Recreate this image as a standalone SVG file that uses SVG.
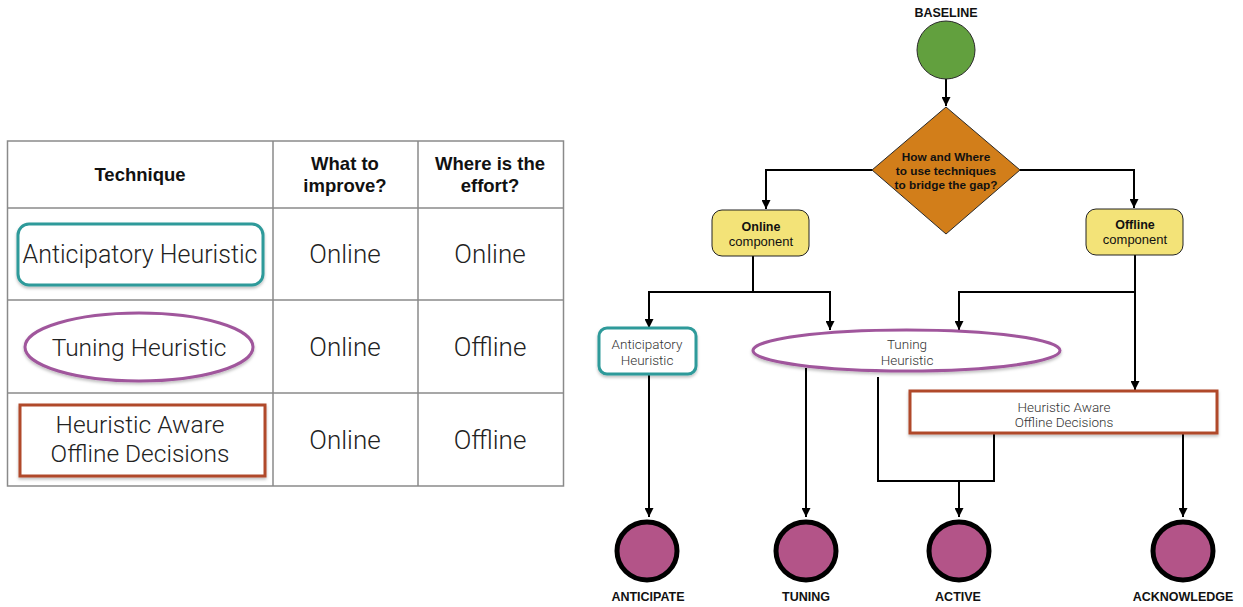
<svg xmlns="http://www.w3.org/2000/svg" width="1243" height="607" viewBox="0 0 1243 607">
  <defs>
    <marker id="arrow" viewBox="0 0 10 10" refX="10" refY="5" markerWidth="9" markerHeight="9" markerUnits="userSpaceOnUse" orient="auto">
      <path d="M0,0 L10,5 L0,10 z" fill="#000"/>
    </marker>
    <filter id="shadow" x="-10%" y="-20%" width="120%" height="150%">
      <feDropShadow dx="0" dy="2" stdDeviation="1.5" flood-color="#000" flood-opacity="0.25"/>
    </filter>
  </defs>
  <style>
    .grid { fill: none; stroke: #8a8a8a; stroke-width: 1.5; }
    .hdr { font-family: "Liberation Sans", Arial, sans-serif; font-weight: bold; font-size: 18.5px; fill: #111; text-anchor: middle; }
    .big { font-family: Roboto, "Liberation Sans", sans-serif; font-weight: 300; font-size: 26px; fill: #222; text-anchor: middle; }
    .tech { font-family: Roboto, "Liberation Sans", sans-serif; font-weight: 300; font-size: 24.5px; fill: #222; text-anchor: middle; }
    .sm { font-family: Roboto, "Liberation Sans", sans-serif; font-weight: 300; font-size: 13.5px; fill: #333; text-anchor: middle; }
    .lbl { font-family: "Liberation Sans", Arial, sans-serif; font-weight: bold; font-size: 12.5px; fill: #111; text-anchor: middle; }
    .dec { font-family: "Liberation Sans", Arial, sans-serif; font-weight: bold; font-size: 11.8px; fill: #111; text-anchor: middle; }
    .comp { font-family: "Liberation Sans", Arial, sans-serif; font-size: 13px; fill: #111; text-anchor: middle; }
    .teal { fill: #fff; stroke: #2E9A9A; stroke-width: 3; filter: url(#shadow); }
    .purple { fill: #fff; stroke: #A0569C; stroke-width: 3; filter: url(#shadow); }
    .rust { fill: #fff; stroke: #B0482B; stroke-width: 3; filter: url(#shadow); }
    .yellow { fill: #F3E378; stroke: #222; stroke-width: 1; }
    .end { fill: #B35488; stroke: #000; stroke-width: 5; }
    .conn path, .conn line { fill: none; stroke: #000; stroke-width: 2; }
  </style>

  <!-- Comparison table -->
  <g id="table">
    <rect class="grid" x="7.5" y="141" width="556" height="345"/>
    <line class="grid" x1="273" y1="141" x2="273" y2="486"/>
    <line class="grid" x1="418" y1="141" x2="418" y2="486"/>
    <line class="grid" x1="7.5" y1="208" x2="563.5" y2="208"/>
    <line class="grid" x1="7.5" y1="300" x2="563.5" y2="300"/>
    <line class="grid" x1="7.5" y1="393" x2="563.5" y2="393"/>

    <text class="hdr" x="140" y="181">Technique</text>
    <text class="hdr" x="345" y="170">What to</text>
    <text class="hdr" x="345" y="192">improve?</text>
    <text class="hdr" x="490" y="170">Where is the</text>
    <text class="hdr" x="490" y="192">effort?</text>

    <rect class="teal" x="18" y="224" width="245" height="61" rx="11"/>
    <text class="tech" x="140" y="263" style="font-size:25px">Anticipatory Heuristic</text>
    <text class="big" x="345" y="263">Online</text>
    <text class="big" x="490" y="263">Online</text>

    <ellipse class="purple" cx="139" cy="347" rx="114" ry="34"/>
    <text class="tech" x="139" y="356">Tuning Heuristic</text>
    <text class="big" x="345" y="356">Online</text>
    <text class="big" x="490" y="356">Offline</text>

    <rect class="rust" x="20" y="405" width="245" height="71"/>
    <text class="tech" x="140" y="433">Heuristic Aware</text>
    <text class="tech" x="140" y="462">Offline Decisions</text>
    <text class="big" x="345" y="449">Online</text>
    <text class="big" x="490" y="449">Offline</text>
  </g>

  <!-- Connectors -->
  <g class="conn">
    <line x1="946" y1="79" x2="946" y2="106" marker-end="url(#arrow)"/>
    <path d="M872,170 H766 V209" marker-end="url(#arrow)"/>
    <path d="M1020,170 H1134 V208" marker-end="url(#arrow)"/>
    <line x1="753" y1="256" x2="753" y2="292"/>
    <path d="M753,292 H649 V328" marker-end="url(#arrow)"/>
    <path d="M753,292 H830 V330" marker-end="url(#arrow)"/>
    <line x1="1135" y1="255" x2="1135" y2="390" marker-end="url(#arrow)"/>
    <path d="M1135,292 H959 V330" marker-end="url(#arrow)"/>
    <line x1="649" y1="374" x2="649" y2="517" marker-end="url(#arrow)"/>
    <line x1="806" y1="368" x2="806" y2="517" marker-end="url(#arrow)"/>
    <path d="M878,377 V481 H994 V434"/>
    <line x1="959" y1="481" x2="959" y2="517" marker-end="url(#arrow)"/>
    <line x1="1183" y1="434" x2="1183" y2="517" marker-end="url(#arrow)"/>
  </g>

  <g id="baseline">
    <text class="lbl" x="946" y="17">BASELINE</text>
    <circle cx="946" cy="50" r="29" fill="#62A03E" stroke="#2a2a2a" stroke-width="1"/>
  </g>

  <g id="decision">
    <polygon points="946,107 1020,170 946,234 872,170" fill="#D27E1A" stroke="#2a2a2a" stroke-width="1"/>
    <text class="dec" x="946" y="161">How and Where</text>
    <text class="dec" x="946" y="175">to use techniques</text>
    <text class="dec" x="946" y="189">to bridge the gap?</text>
  </g>

  <g id="online-component">
    <rect class="yellow" x="712" y="210" width="97" height="46" rx="10"/>
    <text class="lbl" x="761" y="231">Online</text>
    <text class="comp" x="761" y="246">component</text>
  </g>

  <g id="offline-component">
    <rect class="yellow" x="1086" y="209" width="97" height="46" rx="10"/>
    <text class="lbl" x="1135" y="229">Offline</text>
    <text class="comp" x="1135" y="244">component</text>
  </g>

  <g id="anticipatory">
    <rect class="teal" x="599" y="328" width="97" height="46" rx="8"/>
    <text class="sm" x="647" y="349">Anticipatory</text>
    <text class="sm" x="647" y="365">Heuristic</text>
  </g>

  <g id="tuning">
    <ellipse class="purple" cx="906.5" cy="350.5" rx="153.5" ry="20.5"/>
    <text class="sm" x="907" y="349">Tuning</text>
    <text class="sm" x="907" y="365">Heuristic</text>
  </g>

  <g id="heuristic-aware">
    <rect class="rust" x="910" y="391" width="307" height="42"/>
    <text class="sm" x="1064" y="412">Heuristic Aware</text>
    <text class="sm" x="1064" y="427">Offline Decisions</text>
  </g>

  <g id="anticipate">
    <ellipse class="end" cx="647" cy="551" rx="30" ry="29"/>
    <text class="lbl" x="648" y="601">ANTICIPATE</text>
  </g>
  <g id="tuning-end">
    <ellipse class="end" cx="806" cy="551" rx="30" ry="29"/>
    <text class="lbl" x="806" y="601">TUNING</text>
  </g>
  <g id="active">
    <ellipse class="end" cx="959" cy="551" rx="30" ry="29"/>
    <text class="lbl" x="958" y="601">ACTIVE</text>
  </g>
  <g id="acknowledge">
    <ellipse class="end" cx="1183" cy="551" rx="30" ry="29"/>
    <text class="lbl" x="1183" y="601">ACKNOWLEDGE</text>
  </g>
</svg>
